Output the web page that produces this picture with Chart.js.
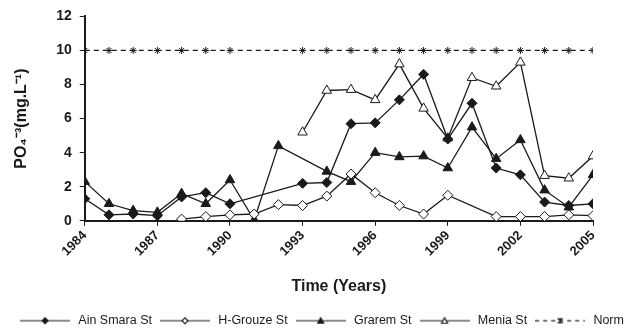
<!DOCTYPE html>
<html>
<head>
<meta charset="utf-8">
<script src="https://cdn.jsdelivr.net/npm/chart.js@4.4.1/dist/chart.umd.min.js"></script>
<style>
  html, body { margin: 0; padding: 0; background: #fff; }
  #wrap { width: 630px; height: 329px; }
</style>
</head>
<body>
<div id="wrap"><canvas id="po4Chart" width="630" height="329"></canvas></div>
<script>
  // PO4 concentration by station, 1984-2005
  const years = [1984, 1985, 1986, 1987, 1988, 1989, 1990, 1991, 1992, 1993, 1994,
                 1995, 1996, 1997, 1998, 1999, 2000, 2001, 2002, 2003, 2004, 2005];
  const ainSmara = [1.3, 0.35, 0.4, 0.3, 1.4, 1.65, 1.0, null, null, 2.2, 2.25,
                    5.7, 5.75, 7.1, 8.6, 4.8, 6.9, 3.1, 2.7, 1.1, 0.9, 1.0];
  const hGrouze = [null, null, null, null, 0.1, 0.25, 0.35, 0.4, 0.95, 0.9, 1.45,
                   2.75, 1.65, 0.9, 0.4, 1.5, null, 0.25, 0.25, 0.25, 0.35, 0.3];
  const grarem = [2.3, 1.0, 0.6, 0.5, 1.6, 1.0, 2.4, 0.05, 4.4, null, 2.9,
                  2.3, 4.0, 3.75, 3.8, 3.1, 5.5, 3.65, 4.75, 1.8, 0.8, 2.7];
  const menia = [null, null, null, null, null, null, null, null, null, 5.2, 7.65,
                 7.7, 7.1, 9.2, 6.6, 4.85, 8.4, 7.9, 9.3, 2.65, 2.5, 3.8];
  const norm = [10, 10, 10, 10, 10, 10, 10, null, null, 10, 10,
                10, 10, 10, 10, 10, 10, 10, 10, 10, 10, 10];

  const yTicks = [0, 2, 4, 6, 8, 10, 12];
  const seriesNames = ['Ain Smara St', 'H-Grouze St', 'Grarem St', 'Menia St', 'Norm'];

  const ink = '#1a1a1a';

  function toPoints(values) {
    return years.map((yr, i) => ({ x: yr, y: values[i] }));
  }

  // little line+marker picture used as the legend symbol
  function legendSymbol(kind, filled, dashed) {
    const c = document.createElement('canvas');
    c.width = 50; c.height = 10;
    const ctx = c.getContext('2d');
    ctx.strokeStyle = ink;
    ctx.lineWidth = 1.2;
    if (dashed) ctx.setLineDash([4, 4]);
    ctx.beginPath(); ctx.moveTo(0, 5); ctx.lineTo(50, 5); ctx.stroke();
    ctx.setLineDash([]);
    ctx.fillStyle = filled ? ink : '#fff';
    ctx.beginPath();
    if (kind === 'diamond') {
      ctx.moveTo(25, 2); ctx.lineTo(28, 5); ctx.lineTo(25, 8); ctx.lineTo(22, 5); ctx.closePath();
      ctx.fill(); ctx.stroke();
    } else if (kind === 'triangle') {
      ctx.moveTo(25, 2); ctx.lineTo(28, 7.5); ctx.lineTo(22, 7.5); ctx.closePath();
      ctx.fill(); ctx.stroke();
    } else {
      ctx.moveTo(22.5, 2.5); ctx.lineTo(27.5, 7.5);
      ctx.moveTo(27.5, 2.5); ctx.lineTo(22.5, 7.5);
      ctx.moveTo(25, 2); ctx.lineTo(25, 8);
      ctx.stroke();
    }
    return c;
  }

  const symbols = [
    legendSymbol('diamond', true, false),
    legendSymbol('diamond', false, false),
    legendSymbol('triangle', true, false),
    legendSymbol('triangle', false, false),
    legendSymbol('star', false, true)
  ];

  function lineSet(label, values, style, fill, radius) {
    return {
      label,
      data: toPoints(values),
      borderColor: ink,
      borderWidth: 1.3,
      pointStyle: style,
      pointRadius: radius,
      pointBackgroundColor: fill,
      pointBorderColor: ink,
      pointBorderWidth: 1,
      spanGaps: true,
      tension: 0
    };
  }

  const datasets = [
    lineSet(seriesNames[0], ainSmara, 'rectRot', ink, 5),
    lineSet(seriesNames[1], hGrouze, 'rectRot', '#fff', 5),
    lineSet(seriesNames[2], grarem, 'triangle', ink, 5.5),
    lineSet(seriesNames[3], menia, 'triangle', '#fff', 5.5),
    Object.assign(lineSet(seriesNames[4], norm, 'star', '#fff', 3.5), { borderDash: [5, 4], borderWidth: 1.2 })
  ];

  Chart.defaults.font.family = 'Arial, "Liberation Sans", sans-serif';
  Chart.defaults.color = ink;

  new Chart(document.getElementById('po4Chart'), {
    type: 'line',
    data: { datasets },
    options: {
      responsive: false,
      animation: false,
      layout: { padding: { left: 12, right: 0, top: 10, bottom: -8 } },
      plugins: {
        tooltip: { enabled: false },
        legend: {
          position: 'bottom',
          labels: {
            usePointStyle: true,
            pointStyleWidth: 54,
            padding: 6,
            font: { size: 12.5 },
            color: ink,
            generateLabels(chart) {
              const base = Chart.defaults.plugins.legend.labels.generateLabels(chart);
              return base.map((item, i) => Object.assign(item, { pointStyle: symbols[i] }));
            }
          }
        }
      },
      scales: {
        x: {
          type: 'linear',
          min: years[0],
          max: years[years.length - 1],
          ticks: {
            stepSize: 3,
            minRotation: 45,
            maxRotation: 45,
            font: { size: 13, weight: 'bold' },
            color: ink,
            padding: 2,
            callback: v => String(v)
          },
          grid: { display: true, drawOnChartArea: false, color: ink, tickLength: 5 },
          border: { display: true, color: ink, width: 2 },
          title: {
            display: true,
            text: 'Time (Years)',
            font: { size: 16, weight: 'bold' },
            color: ink,
            padding: { top: 16, bottom: 12 }
          }
        },
        y: {
          min: 0,
          max: 12,
          afterBuildTicks(axis) { axis.ticks = yTicks.map(v => ({ value: v })); },
          ticks: { font: { size: 14, weight: 'bold' }, color: ink, padding: 8 },
          grid: { display: true, drawOnChartArea: false, color: ink, tickLength: 5 },
          border: { display: true, color: ink, width: 2 },
          title: {
            display: true,
            text: 'PO\u2084\u207B\u00B3(mg.L\u207B\u00B9)',
            font: { size: 16, weight: 'bold' },
            color: ink,
            padding: { top: 0, bottom: 17 }
          }
        },
        // empty right-hand axis that only keeps the right margin
        yRight: {
          position: 'right',
          display: true,
          grid: { display: false },
          border: { display: false },
          ticks: { display: false },
          afterFit(axis) { axis.width = 37; }
        }
      }
    }
  });
</script>
</body>
</html>
